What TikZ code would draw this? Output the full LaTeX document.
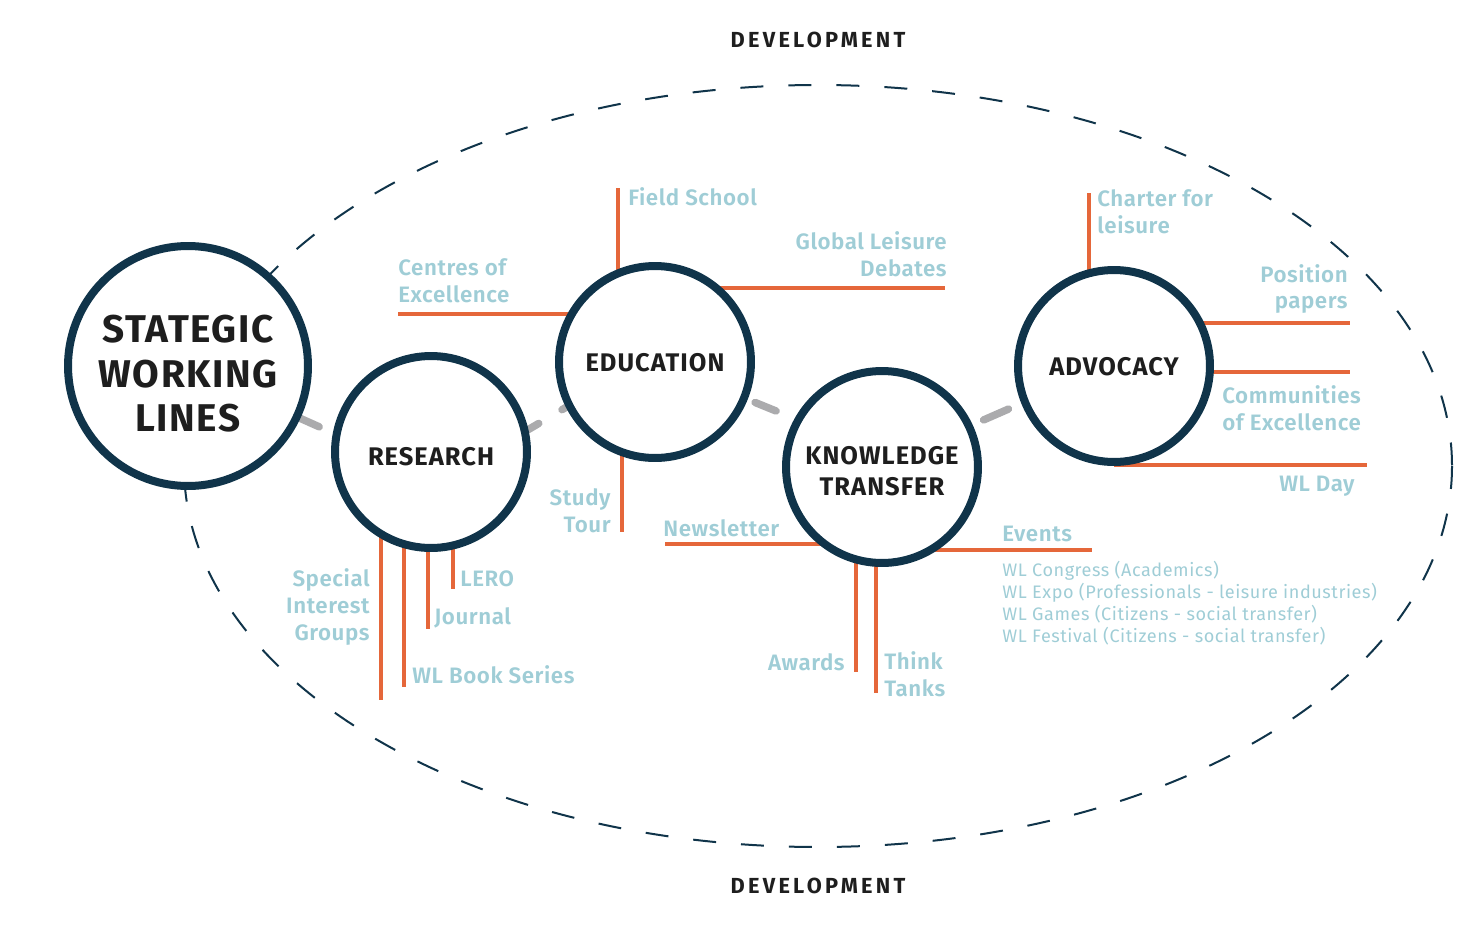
\documentclass[tikz,border=0pt]{standalone}
\usepackage{fontspec}
\setmainfont{Fira Sans}
\newfontfamily\headfont{Fira Sans Bold}[LetterSpace=4]
\newfontfamily\devfont{Fira Sans Bold}[LetterSpace=15]
\newfontfamily\itemfont{Fira Sans SemiBold}[LetterSpace=2.5]
\newfontfamily\eventfont{Fira Sans}[LetterSpace=3]
\usetikzlibrary{backgrounds}
\definecolor{ringNavy}{HTML}{10344A}
\definecolor{branchOrange}{HTML}{E5673A}
\definecolor{itemBlue}{HTML}{9FCDD6}
\definecolor{linkGray}{HTML}{ABABAD}
\definecolor{inkDark}{HTML}{1E1E1E}

\begin{document}
\begin{tikzpicture}[x=0.02cm, y=-0.02cm,
  hub/.style={circle, draw=ringNavy, fill=white, line width=0.16cm, minimum size=3.84cm,
              inner sep=0pt, align=center, text=inkDark, text depth=0pt,
              font=\headfont\fontsize{14.5}{17.5}\selectfont},
  bighub/.style={hub, minimum size=4.8cm, font=\headfont\fontsize{22}{25.5}\selectfont},
  branch/.style={draw=branchOrange, line width=0.07cm},
  link/.style={draw=linkGray, line width=0.15cm, line cap=round},
  devring/.style={draw=ringNavy, line width=0.04cm, dash pattern=on 0.46cm off 0.5cm},
  item/.style={text=itemBlue, inner sep=0pt, font=\itemfont\fontsize{12.7}{15.3}\selectfont},
  itemL/.style={item, anchor=west, align=left},
  itemR/.style={item, anchor=east, align=right},
  eventlist/.style={itemL, font=\eventfont\fontsize{10.3}{12.5}\selectfont},
  devlabel/.style={text=inkDark, inner sep=0pt, font=\devfont\fontsize{12.4}{15}\selectfont},
]
  \useasboundingbox (0,0) rectangle (1476,946);

  % Hubs
  \node[bighub, text height=75pt] (swl) at (188,366) {STATEGIC\\WORKING\\LINES};
  \node[hub, text height=15.6pt] (res) at (431,452) {RESEARCH};
  \node[hub] (edu) at (655,362) {EDUCATION};
  \node[hub, text height=32pt] (kt)  at (882,467) {KNOWLEDGE\\TRANSFER};
  \node[hub] (adv) at (1114,366) {ADVOCACY};

  % Development
  \node[devlabel] (devTop) at (818,40) {DEVELOPMENT};
  \node[devlabel] (devBot) at (818,886) {DEVELOPMENT};

  % Branch ends
  \coordinate (sigEnd) at (381,700);
  \coordinate (bookEnd) at (404,687);
  \coordinate (jouEnd) at (428,629);
  \coordinate (leroEnd) at (453,589);
  \coordinate (fieldEnd) at (618,188);
  \coordinate (centEnd) at (398,314);
  \coordinate (gldEnd) at (945,288);
  \coordinate (studyEnd) at (622,532);
  \coordinate (newsEnd) at (665,544);
  \coordinate (evEnd) at (1092,550);
  \coordinate (awEnd) at (856,672);
  \coordinate (ttEnd) at (876,693);
  \coordinate (charEnd) at (1089,193);
  \coordinate (posEnd) at (1350,323);
  \coordinate (comEnd) at (1350,372);
  \coordinate (dayEnd) at (1367,465);

  \begin{scope}[on background layer]
    \draw[devring] (818,466) ellipse [x radius=634, y radius=381];
    % Research
    \draw[branch] (res.center -| sigEnd) -- (sigEnd);
    \draw[branch] (res.center -| bookEnd) -- (bookEnd);
    \draw[branch] (res.center -| jouEnd) -- (jouEnd);
    \draw[branch] (res.center -| leroEnd) -- (leroEnd);
    % Education
    \draw[branch] (edu.center -| fieldEnd) -- (fieldEnd);
    \draw[branch] (edu.center |- centEnd) -- (centEnd);
    \draw[branch] (edu.center |- gldEnd) -- (gldEnd);
    \draw[branch] (edu.center -| studyEnd) -- (studyEnd);
    % Knowledge transfer
    \draw[branch] (kt.center |- newsEnd) -- (newsEnd);
    \draw[branch] (kt.center |- evEnd) -- (evEnd);
    \draw[branch] (kt.center -| awEnd) -- (awEnd);
    \draw[branch] (kt.center -| ttEnd) -- (ttEnd);
    % Advocacy
    \draw[branch] (adv.center -| charEnd) -- (charEnd);
    \draw[branch] (adv.center |- posEnd) -- (posEnd);
    \draw[branch] (adv.center |- comEnd) -- (comEnd);
    \draw[branch] (adv.center |- dayEnd) -- (dayEnd);
    % Links between hubs
    \draw[link, shorten >=0.3cm] (swl.-25) -- (res.169);
    \draw[link, dash pattern=on 0.24cm off 0.54cm] (res.13) -- (edu.207);
    \draw[link, shorten <=0.16cm, shorten >=0.4cm] (edu.-22) -- (kt.151);
    \draw[link, shorten <=0.24cm, shorten >=0.28cm] (kt.25) -- (adv.202);
  \end{scope}

  % Research items
  \node[itemR] (sig) at (370,607) {Special\\Interest\\Groups};
  \node[itemL] (lero) at (460,579) {LERO};
  \node[itemL] (jou) at (434,618) {Journal};
  \node[itemL] (book) at (412,675) {WL Book Series};
  % Education items
  \node[itemL] (field) at (628,197) {Field School};
  \node[itemL] (cent) at (398,281) {Centres of\\Excellence};
  \node[itemR] (gld) at (947,254) {Global Leisure\\Debates};
  \node[itemR] (study) at (611,511) {Study\\Tour};
  % Knowledge transfer items
  \node[itemL] (news) at (663,528) {Newsletter};
  \node[itemL] (ev) at (1002,534) {Events};
  \node[eventlist] (evList) at (1002,603) {WL Congress (Academics)\\
    WL Expo (Professionals - leisure industries)\\
    WL Games (Citizens - social transfer)\\
    WL Festival (Citizens - social transfer)};
  \node[itemR] (aw) at (845,662) {Awards};
  \node[itemL] (tt) at (884,674) {Think\\Tanks};
  % Advocacy items
  \node[itemL] (char) at (1097,212) {Charter for\\leisure};
  \node[itemR] (pos) at (1348,289) {Position\\papers};
  \node[itemL] (com) at (1222,408) {Communities\\of Excellence};
  \node[itemR] (day) at (1355,486) {WL Day};
\end{tikzpicture}
\end{document}
